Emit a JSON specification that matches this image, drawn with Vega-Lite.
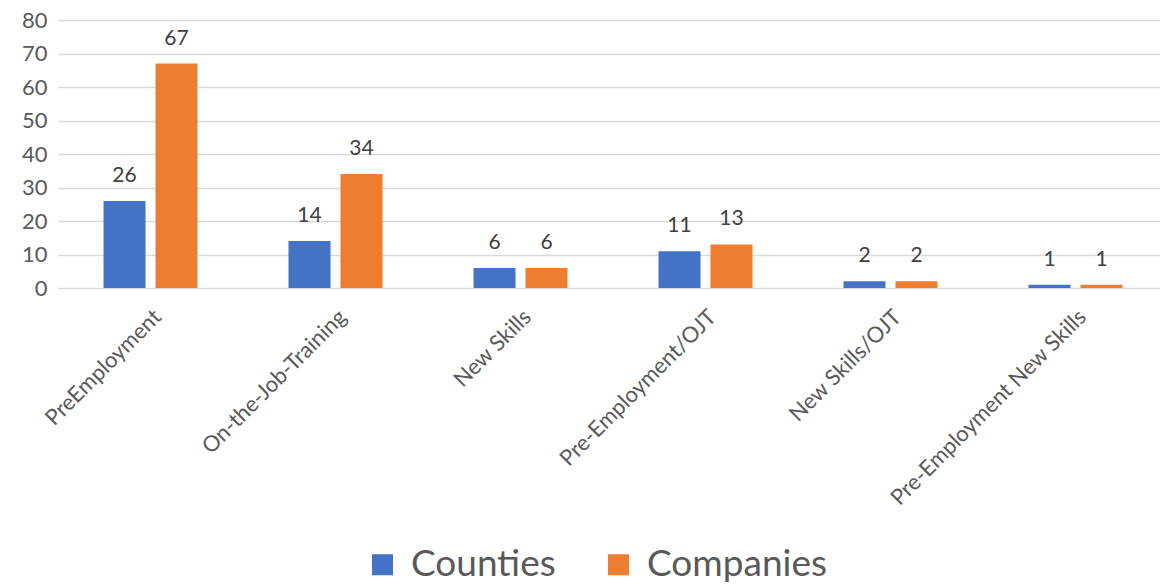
{
  "$schema": "https://vega.github.io/schema/vega-lite/v6.json",
  "autosize": {"type": "none"},
  "padding": {"left": 58, "top": 20, "right": 0, "bottom": 296},
  "width": 1110,
  "height": 268,
  "background": "white",
  "config": {"font": "Lato", "view": {"stroke": null}},
  "data": {"values": [
    {"program": "PreEmployment", "series": "Counties", "value": 26},
    {"program": "PreEmployment", "series": "Companies", "value": 67},
    {"program": "On-the-Job-Training", "series": "Counties", "value": 14},
    {"program": "On-the-Job-Training", "series": "Companies", "value": 34},
    {"program": "New Skills", "series": "Counties", "value": 6},
    {"program": "New Skills", "series": "Companies", "value": 6},
    {"program": "Pre-Employment/OJT", "series": "Counties", "value": 11},
    {"program": "Pre-Employment/OJT", "series": "Companies", "value": 13},
    {"program": "New Skills/OJT", "series": "Counties", "value": 2},
    {"program": "New Skills/OJT", "series": "Companies", "value": 2},
    {"program": "Pre-Employment New Skills", "series": "Counties", "value": 1},
    {"program": "Pre-Employment New Skills", "series": "Companies", "value": 1}
  ]},
  "encoding": {
    "x": {
      "field": "program", "type": "nominal", "sort": null,
      "scale": {"paddingInner": 0.492, "paddingOuter": 0.246},
      "axis": {
        "title": null, "labelAngle": -45, "labelAlign": "right", "labelBaseline": "top",
        "labelFontSize": 22, "labelColor": "#595959", "labelPadding": 18,
        "domain": false, "ticks": false, "labelLimit": 400
      }
    },
    "xOffset": {
      "field": "series", "type": "nominal", "sort": ["Counties", "Companies"],
      "scale": {"paddingInner": 0.192, "paddingOuter": 0}
    },
    "y": {
      "field": "value", "type": "quantitative",
      "scale": {"domain": [0, 80], "nice": false},
      "axis": {
        "title": null, "values": [0, 10, 20, 30, 40, 50, 60, 70, 80],
        "labelFontSize": 22, "labelColor": "#595959", "labelPadding": 11,
        "domain": false, "ticks": false,
        "gridColor": "#d9d9d9", "gridWidth": 1.5
      }
    }
  },
  "layer": [
    {
      "mark": {"type": "bar"},
      "encoding": {
        "color": {
          "field": "series", "type": "nominal", "sort": ["Counties", "Companies"],
          "scale": {"domain": ["Counties", "Companies"], "range": ["#4472c4", "#ed7d31"]},
          "legend": {
            "title": null, "orient": "none", "direction": "horizontal",
            "legendX": 306, "legendY": 526,
            "symbolType": "square", "symbolSize": 441, "symbolStrokeWidth": 0,
            "labelFontSize": 37, "labelColor": "#595959", "labelOffset": 10,
            "labelLimit": 400, "columnPadding": 44
          }
        }
      }
    },
    {
      "mark": {"type": "text", "baseline": "alphabetic", "dy": -19, "fontSize": 21, "color": "#404040"},
      "encoding": {"text": {"field": "value", "type": "quantitative"}}
    }
  ]
}
